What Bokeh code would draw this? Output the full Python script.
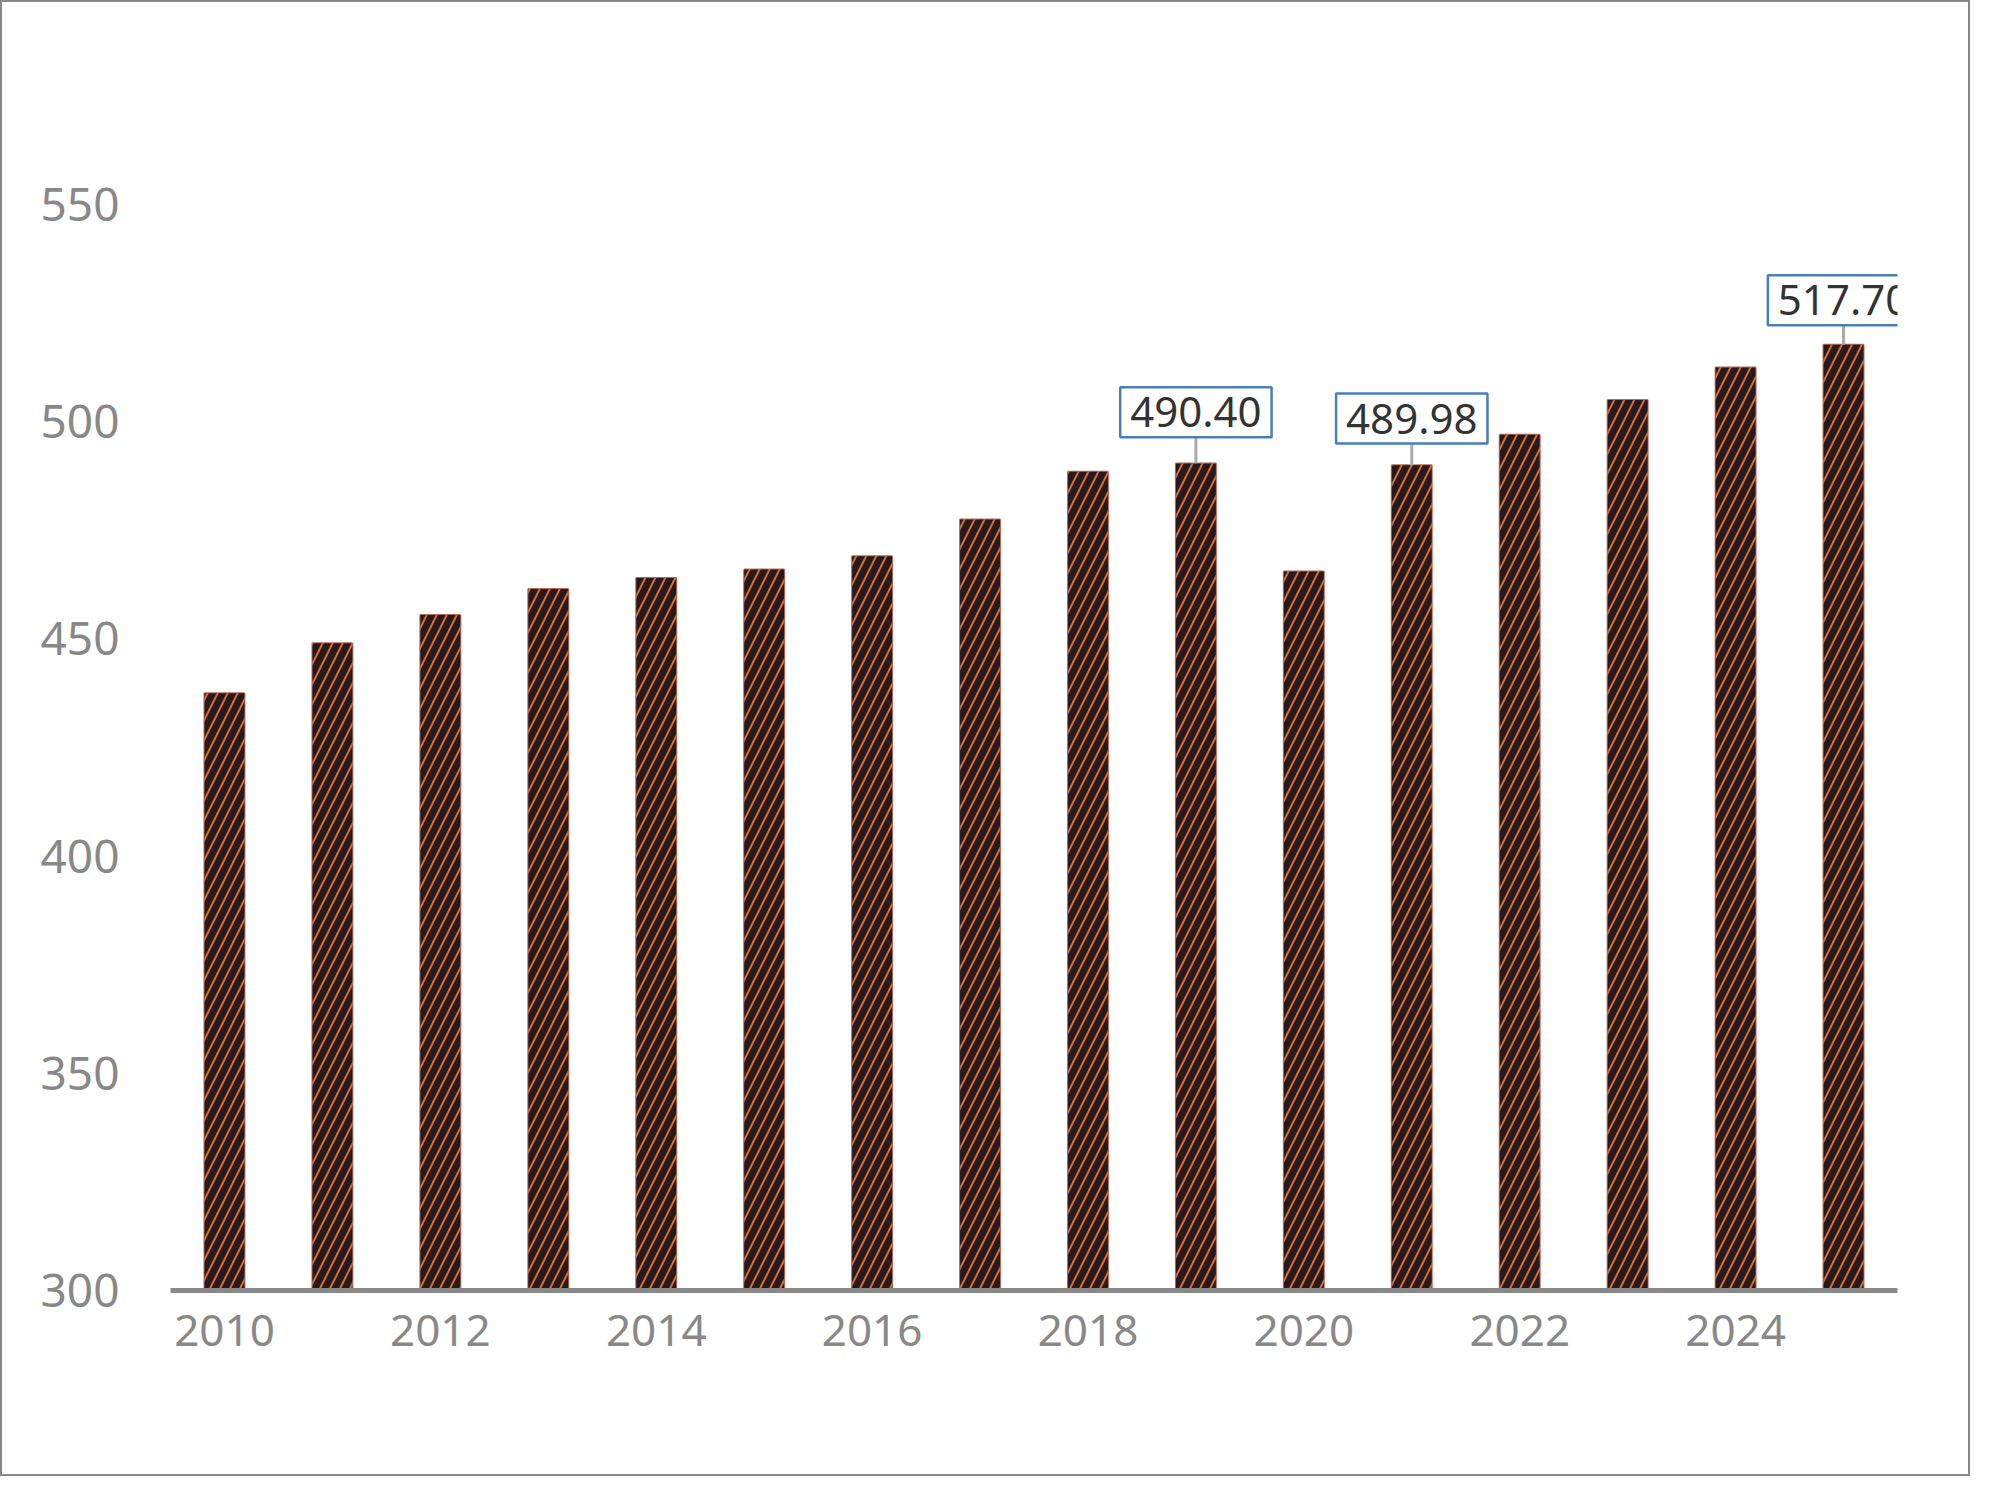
from bokeh.plotting import figure
from bokeh.models import Label, FixedTicker
from bokeh.embed import file_html
from bokeh.resources import INLINE

years = list(range(2010, 2026))
consumption = [437.5, 449.0, 455.5, 461.5, 464.0, 466.0, 469.0, 477.5, 488.5, 490.40,
               465.5, 489.98, 497.0, 505.0, 512.5, 517.70]
label_years = [2019, 2021, 2025]
label_vals = [490.40, 489.98, 517.70]
label_text = ["490.40", "489.98", "517.70"]
label_gap = [6.0, 5.0, 4.5]

FONT = "Noto Sans"
W, H = 1970, 1476
p = figure(width=W, height=H, output_backend="svg", toolbar_location=None,
           x_range=(2009.5, 2025.5), y_range=(300, 550),
           min_border_left=168, min_border_right=75, min_border_top=202, min_border_bottom=188)
p.styles = {"border": "2.5px solid #888888"}
p.outline_line_color = None
p.grid.visible = False

p.vbar(x=years, top=consumption, bottom=300, width=0.37, fill_color="#d86f2a",
       line_color="#b96a55", line_width=2)
p.vbar(x=years, top=consumption, bottom=300, width=0.37, fill_color=None, fill_alpha=0,
       line_color=None, hatch_pattern="/", hatch_color="#15101c",
       hatch_scale=20, hatch_weight=7, hatch_alpha=0.9)

bb = [v + g for v, g in zip(label_vals, label_gap)]
p.segment(x0=label_years, y0=label_vals, x1=label_years, y1=bb, line_color="#aaaaaa", line_width=3)
for x, y, t in zip(label_years, bb, label_text):
    p.add_layout(Label(x=x, y=y, text=t, text_align="center", text_baseline="bottom",
                       text_font=FONT, text_font_size="42px", text_color="#333333",
                       background_fill_color="white", border_line_color="#4a7ebb",
                       border_line_width=2.5, padding=10))

p.yaxis.ticker = FixedTicker(ticks=[300, 350, 400, 450, 500, 550])
p.yaxis.axis_line_color = None
p.yaxis.major_tick_line_color = None
p.yaxis.minor_tick_line_color = None
p.yaxis.major_label_text_font = FONT
p.yaxis.major_label_text_font_size = "46px"
p.yaxis.major_label_text_color = "#888888"
p.yaxis.major_label_standoff = 45

p.xaxis.ticker = FixedTicker(ticks=list(range(2010, 2026, 2)))
p.xaxis.axis_line_color = "#888888"
p.xaxis.axis_line_width = 5
p.xaxis.major_tick_line_color = None
p.xaxis.minor_tick_line_color = None
p.xaxis.major_label_text_font = FONT
p.xaxis.major_label_text_font_size = "44px"
p.xaxis.major_label_text_color = "#888888"
p.xaxis.major_label_standoff = 18

p.add_layout(Label(x=24, y=1171, x_units="screen", y_units="screen", text="Global Fossil Fuel Consumption",
                   text_font=FONT, text_font_size="58px", text_color="#111111"))
p.add_layout(Label(x=25, y=1113, x_units="screen", y_units="screen", text="Oil, Coal, Natural Gas in EJ 2010-2025",
                   text_font=FONT, text_font_size="37px", text_color="#333333"))
p.add_layout(Label(x=26, y=-149, x_units="screen", y_units="screen", text="data: ei statistical review | chart: coldeye.earth",
                   text_font=FONT, text_font_size="39px", text_color="#333333"))

open("out.html", "w").write(file_html(p, INLINE))
